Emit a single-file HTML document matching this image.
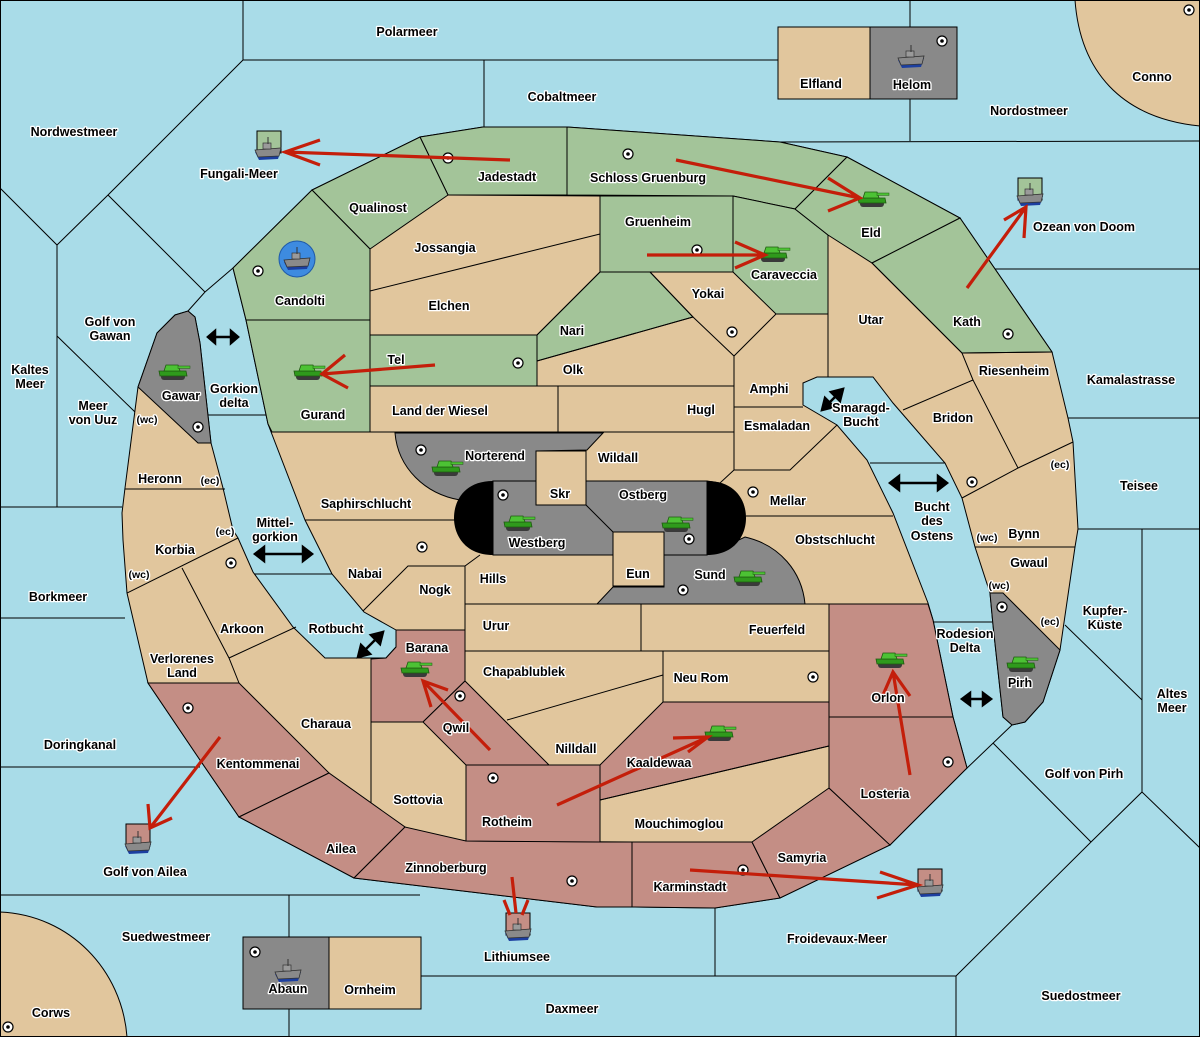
<!DOCTYPE html>
<html><head><meta charset="utf-8"><style>
html,body{margin:0;padding:0;background:#a9dce8;}
svg{display:block}
text{font-family:"Liberation Sans",sans-serif;font-weight:bold;font-size:12.5px;text-anchor:middle;fill:#000;stroke:#fff;stroke-width:2.6px;paint-order:stroke;stroke-linejoin:round}
.l{fill:none;stroke:#000;stroke-width:1}
.r{stroke:#c41e0a;stroke-width:3.2;fill:none;stroke-linecap:butt}
</style></head><body>
<svg width="1200" height="1037" viewBox="0 0 1200 1037" xmlns="http://www.w3.org/2000/svg">
<defs>
<g id="tank">
<rect x="-12" y="1" width="24" height="6" rx="3" fill="#3a3a3a"/>
<path d="M-14,-2 L13,-2 L14,3 L-13,3 Z" fill="#2f9a1c" stroke="#1f5a10" stroke-width="0.8"/>
<path d="M-7,-8 L5,-8 L7,-2 L-9,-2 Z" fill="#4cc234" stroke="#1f5a10" stroke-width="0.8"/>
<rect x="5" y="-7" width="12" height="2.4" fill="#4cc234" stroke="#1f5a10" stroke-width="0.5"/>
</g>
<g id="ship">
<path d="M-13,0 L13,-2 L10,7 L-9,8 Z" fill="#1c3fa0"/>
<path d="M-13,-2 L13,-4 L11,4 L-10,5 Z" fill="#8a8a8a" stroke="#333" stroke-width="0.8"/>
<rect x="-5" y="-9" width="8" height="6" fill="#9a9a9a" stroke="#333" stroke-width="0.7"/>
<line x1="0" y1="-15" x2="0" y2="-8" stroke="#333" stroke-width="1"/>
</g>
<g id="sc"><circle r="5" fill="#fff" stroke="#000" stroke-width="1.2"/><circle r="1.8" fill="#000"/></g>
</defs>
<rect width="1200" height="1037" fill="#a9dce8"/>
<!-- corner lands -->
<path d="M1075,0 C1080,70 1120,118 1200,126 L1200,0 Z" fill="#e1c69d" stroke="#000"/>
<path d="M0,912 C70,915 122,970 127,1037 L0,1037 Z" fill="#e1c69d" stroke="#000"/>
<!-- sea lines -->
<g class="l">
<path d="M243,0 L243,60 L778,60 M484,60 L484,128 M910,0 L910,27 M910,99 L910,141 M780,142 L1200,141"/>
<path d="M243,60 L108,195 L57,245 L0,188 M57,245 L57,507 M0,507 L122,507 M57,336 L135,412 M108,195 L205,292 L188,311 M205,292 L233,268"/>
<path d="M0,618 L125,618 M0,767 L200,767 M0,895 L420,895 M289,895 L289,1037"/>
<path d="M421,976 L956,976 M715,908 L715,976 M956,976 L956,1037 M956,976 L1091,842 L993,743 M1012,725 L965,770 M1091,842 L1142,792 L1200,848 M1142,529 L1142,792 M1065,625 L1142,700 M1078,529 L1200,529 M1068,418 L1200,418 M995,269 L1200,269"/>
<path d="M207,415 L266,415 M253,574 L332,574 M870,463 L945,463 M933,622 L992,622"/>
</g>
<!-- main land -->
<path d="M420,137 L483,127 L567,127 L780,142 L847,157 L960,218 L1052,352 L1068,418 L1073,442 L1078,529 L1075,547 L1060,650 L1043,702 L1025,722 L1012,725 L1003,717 L993,625 L990,593 L975,547 L962,498 L945,463 L893,403 L873,377 L817,377 L803,383 L803,405 L837,425 L867,460 L893,513 L928,603 L933,620 L953,717 L967,768 L890,845 L780,898 L715,908 L632,907 L597,907 L354,878 L239,817 L200,760 L148,683 L127,593 L123,540 L122,513 L125,488 L138,387 L157,333 L175,315 L188,311 L195,317 L200,343 L211,443 L223,488 L233,530 L238,538 L253,572 L293,627 L325,658 L386,658 L396,647 L396,630 L364,612 L332,574 L305,520 L268,424 L246,320 L233,268 L312,190 Z" fill="#e1c69d" stroke="#000" stroke-width="1"/>
<!-- green -->
<g fill="#a3c499" stroke="#000" stroke-width="1">
<path d="M420,137 L483,127 L567,127 L567,195 L448,195 Z"/>
<path d="M567,127 L780,142 L847,157 L795,209 L733,196 L567,195 Z"/>
<path d="M312,190 L420,137 L448,195 L370,249 Z"/>
<path d="M312,190 L370,249 L370,320 L246,320 L233,268 Z"/>
<path d="M246,320 L370,320 L370,432 L272,432 L268,424 Z"/>
<path d="M370,335 L537,335 L537,386 L370,386 Z"/>
<path d="M537,335 L600,272 L650,272 L693,317 L537,361 Z"/>
<path d="M600,196 L733,196 L733,272 L600,272 Z"/>
<path d="M733,196 L795,209 L828,235 L828,314 L776,314 L733,272 Z"/>
<path d="M795,209 L847,157 L960,218 L872,263 L828,235 Z"/>
<path d="M872,263 L960,218 L1052,352 L962,353 Z"/>
</g>
<!-- red -->
<g fill="#c48e85" stroke="#000" stroke-width="1">
<path d="M148,683 L239,683 L329,773 L239,817 L200,760 Z"/>
<path d="M239,817 L329,773 L405,827 L354,878 Z"/>
<path d="M354,878 L405,827 L466,841 L632,842 L632,907 L597,907 Z"/>
<path d="M371,659 L386,658 L396,647 L396,630 L465,630 L465,681 L423,722 L371,722 Z"/>
<path d="M423,722 L465,681 L549,765 L466,765 Z"/>
<path d="M466,765 L600,765 L600,842 L466,841 Z"/>
<path d="M600,765 L663,702 L829,702 L829,746 L600,800 Z"/>
<path d="M632,842 L752,842 L780,898 L715,908 L632,907 Z"/>
<path d="M752,842 L829,788 L890,845 L780,898 Z"/>
<path d="M829,717 L953,717 L967,768 L890,845 L829,788 Z"/>
<path d="M829,604 L928,604 L933,620 L953,717 L829,717 Z"/>
</g>
<!-- gray -->
<g fill="#898989" stroke="#000" stroke-width="1">
<path d="M188,311 L195,317 L200,343 L211,443 L198,443 L138,387 L157,333 L175,315 Z"/>
<path d="M990,593 L1003,593 L1060,650 L1043,702 L1025,722 L1012,725 L1003,717 L993,625 Z"/>
<path d="M395,433 L603,433 L587,450 L536,451 L536,481 L493,481 L460,500 C425,494 398,468 395,433 Z"/>
<path d="M493,481 L707,481 L707,555 L493,555 Z"/>
<path d="M664,555 L707,555 L745,537 C780,545 802,572 805,604 L597,604 L613,587 L664,587 Z"/>
<rect x="243" y="937" width="86" height="72"/>
<rect x="870" y="27" width="87" height="72"/>
</g>
<g fill="#e1c69d" stroke="#000" stroke-width="1">
<rect x="536" y="451" width="50" height="54"/>
<rect x="613" y="532" width="51" height="54"/>
<rect x="329" y="937" width="92" height="72"/>
<rect x="778" y="27" width="92" height="72"/>
</g>
<path d="M493,481 L493,555 C465,555 454,535 454,518 C454,500 465,481 493,481 Z" fill="#000"/>
<path d="M707,481 L707,555 C735,555 746,535 746,518 C746,500 735,481 707,481 Z" fill="#000"/>
<!-- inner borders -->
<g class="l">
<path d="M370,291 L600,234 M448,195 L600,196 L600,272 L537,335 M537,361 L537,335 M537,361 L693,317 M537,386 L734,386 M558,386 L558,432 M272,432 L603,432 M603,432 L734,432 M693,317 L734,356 L776,314 L828,314 M650,272 L693,317 M734,356 L734,470 M734,407 L803,407 M734,470 L790,470 L837,425 M734,470 L720,483 L707,481 M828,314 L828,377 M828,235 L828,314 M872,263 L962,353 L973,380 L1018,468 L962,498 M973,380 L903,410 M1018,468 L1073,442 M975,547 L1075,547 M962,353 L1052,352"/>
<path d="M586,505 L613,532 M746,516 L893,516 M305,520 L455,520 M363,611 L408,566 L465,566 L480,555 M465,566 L465,630 M465,604 L641,604 M641,604 L641,651 M465,651 L829,651 M663,651 L663,702 M507,720 L663,675 M805,604 L928,604 M829,604 L829,788 M600,800 L829,746 M600,842 L752,842"/>
<path d="M125,489 L225,489 M127,593 L238,538 M182,568 L229,658 L239,683 M229,658 L296,627 M371,659 L371,803"/>
</g>
<!-- supply centers -->
<g>
<use href="#sc" x="448" y="158"/><use href="#sc" x="628" y="154"/><use href="#sc" x="697" y="250"/><use href="#sc" x="258" y="271"/><use href="#sc" x="518" y="363"/><use href="#sc" x="732" y="332"/><use href="#sc" x="1008" y="334"/><use href="#sc" x="198" y="427"/><use href="#sc" x="421" y="450"/><use href="#sc" x="503" y="495"/><use href="#sc" x="753" y="492"/><use href="#sc" x="422" y="547"/><use href="#sc" x="231" y="563"/><use href="#sc" x="689" y="539"/><use href="#sc" x="683" y="590"/><use href="#sc" x="972" y="482"/><use href="#sc" x="1002" y="607"/><use href="#sc" x="460" y="696"/><use href="#sc" x="813" y="677"/><use href="#sc" x="188" y="708"/><use href="#sc" x="493" y="778"/><use href="#sc" x="948" y="762"/><use href="#sc" x="572" y="881"/><use href="#sc" x="743" y="870"/><use href="#sc" x="255" y="952"/><use href="#sc" x="8" y="1027"/><use href="#sc" x="1189" y="10"/><use href="#sc" x="942" y="41"/>
</g>
<!-- ship boxes -->
<g stroke="#000" stroke-width="1">
<rect x="257" y="131" width="24" height="22" fill="#a3c499"/>
<rect x="1018" y="178" width="24" height="22" fill="#a3c499"/>
<rect x="126" y="824" width="24" height="22" fill="#c48e85"/>
<rect x="506" y="913" width="24" height="22" fill="#c48e85"/>
<rect x="918" y="869" width="24" height="22" fill="#c48e85"/>
</g>
<circle cx="297" cy="259" r="18" fill="#3d8be0" stroke="#1f5aa8"/>
<use href="#ship" x="268" y="152"/><use href="#ship" x="1030" y="198"/><use href="#ship" x="297" y="262"/><use href="#ship" x="911" y="60"/><use href="#ship" x="138" y="846"/><use href="#ship" x="518" y="933"/><use href="#ship" x="930" y="889"/><use href="#ship" x="288" y="974"/>
<use href="#tank" x="872" y="200"/><use href="#tank" x="773" y="255"/><use href="#tank" x="308" y="373"/><use href="#tank" x="173" y="373"/><use href="#tank" x="446" y="469"/><use href="#tank" x="518" y="524"/><use href="#tank" x="676" y="525"/><use href="#tank" x="748" y="579"/><use href="#tank" x="415" y="670"/><use href="#tank" x="719" y="734"/><use href="#tank" x="890" y="661"/><use href="#tank" x="1021" y="665"/>
<!-- red arrows -->
<g class="r">
<path d="M510,160 L285,152 M320,140 L285,152 L320,165"/>
<path d="M676,160 L860,198 M828,178 L860,198 L828,211"/>
<path d="M647,255 L765,255 M735,242 L765,255 L735,268"/>
<path d="M435,365 L322,374 M345,355 L322,374 L348,388"/>
<path d="M967,288 L1026,207 M1004,220 L1026,207 L1024,238"/>
<path d="M220,737 L150,828 M148,804 L150,828 L172,818"/>
<path d="M490,750 L423,681 M431,707 L423,681 L448,690"/>
<path d="M557,805 L708,737 M673,738 L708,737 L688,752"/>
<path d="M910,775 L893,672 M883,695 L893,672 L910,696"/>
<path d="M690,870 L918,885 M880,872 L918,885 L877,898"/>
<path d="M512,877 L516,913 M504,900 L510,915 M528,900 L522,915"/>
</g>
<!-- double arrows -->
<g stroke="#000" stroke-width="2.5" fill="#000">
<path d="M213,337 L233,337"/><path d="M208,337 L215,331 L215,343 Z M238,337 L231,331 L231,343 Z"/>
<path d="M262,554 L305,554"/><path d="M255,554 L264,547 L264,561 Z M312,554 L303,547 L303,561 Z"/>
<path d="M363,652 L378,637"/><path d="M358,657 L361,645 L370,654 Z M383,632 L371,635 L380,644 Z"/>
<path d="M827,405 L838,394"/><path d="M822,410 L825,398 L834,407 Z M843,389 L831,392 L840,401 Z"/>
<path d="M897,483 L940,483"/><path d="M890,483 L899,476 L899,490 Z M947,483 L938,476 L938,490 Z"/>
<path d="M968,699 L985,699"/><path d="M962,699 L970,693 L970,705 Z M991,699 L983,693 L983,705 Z"/>
</g>
<!-- labels -->
<g>
<text x="407" y="36">Polarmeer</text><text x="562" y="101">Cobaltmeer</text><text x="821" y="88">Elfland</text><text x="912" y="89">Helom</text><text x="1152" y="81">Conno</text><text x="1029" y="115">Nordostmeer</text><text x="74" y="136">Nordwestmeer</text><text x="239" y="178">Fungali-Meer</text><text x="507" y="181">Jadestadt</text><text x="648" y="182">Schloss Gruenburg</text><text x="378" y="212">Qualinost</text><text x="871" y="237">Eld</text><text x="658" y="226">Gruenheim</text><text x="1084" y="231">Ozean von Doom</text><text x="445" y="252">Jossangia</text><text x="784" y="279">Caraveccia</text><text x="300" y="305">Candolti</text><text x="449" y="310">Elchen</text><text x="708" y="298">Yokai</text><text x="871" y="324">Utar</text><text x="110" y="326">Golf von</text><text x="110" y="340">Gawan</text><text x="967" y="326">Kath</text><text x="572" y="335">Nari</text><text x="30" y="374">Kaltes</text><text x="30" y="388">Meer</text><text x="396" y="364">Tel</text><text x="573" y="374">Olk</text><text x="1014" y="375">Riesenheim</text><text x="1131" y="384">Kamalastrasse</text><text x="769" y="393">Amphi</text><text x="181" y="400">Gawar</text><text x="234" y="393">Gorkion</text><text x="234" y="407">delta</text><text x="93" y="410">Meer</text><text x="93" y="424">von Uuz</text><text x="147" y="423" style="font-size:10.5px">(wc)</text><text x="861" y="412">Smaragd-</text><text x="861" y="426">Bucht</text><text x="323" y="419">Gurand</text><text x="440" y="415">Land der Wiesel</text><text x="701" y="414">Hugl</text><text x="953" y="422">Bridon</text><text x="777" y="430">Esmaladan</text><text x="495" y="460">Norterend</text><text x="618" y="462">Wildall</text><text x="160" y="483">Heronn</text><text x="210" y="484" style="font-size:10.5px">(ec)</text><text x="1060" y="468" style="font-size:10.5px">(ec)</text><text x="1139" y="490">Teisee</text><text x="560" y="498">Skr</text><text x="643" y="499">Ostberg</text><text x="788" y="505">Mellar</text><text x="932" y="511">Bucht</text><text x="932" y="525">des</text><text x="932" y="540">Ostens</text><text x="366" y="508">Saphirschlucht</text><text x="537" y="547">Westberg</text><text x="225" y="535" style="font-size:10.5px">(ec)</text><text x="275" y="527">Mittel-</text><text x="275" y="541">gorkion</text><text x="175" y="554">Korbia</text><text x="1024" y="538">Bynn</text><text x="987" y="541" style="font-size:10.5px">(wc)</text><text x="835" y="544">Obstschlucht</text><text x="1029" y="567">Gwaul</text><text x="365" y="578">Nabai</text><text x="638" y="578">Eun</text><text x="710" y="579">Sund</text><text x="493" y="583">Hills</text><text x="139" y="578" style="font-size:10.5px">(wc)</text><text x="999" y="589" style="font-size:10.5px">(wc)</text><text x="435" y="594">Nogk</text><text x="58" y="601">Borkmeer</text><text x="1105" y="615">Kupfer-</text><text x="1105" y="629">Küste</text><text x="1050" y="625" style="font-size:10.5px">(ec)</text><text x="496" y="630">Urur</text><text x="777" y="634">Feuerfeld</text><text x="242" y="633">Arkoon</text><text x="336" y="633">Rotbucht</text><text x="965" y="638">Rodesion</text><text x="965" y="652">Delta</text><text x="427" y="652">Barana</text><text x="182" y="663">Verlorenes</text><text x="182" y="677">Land</text><text x="888" y="702">Orlon</text><text x="524" y="676">Chapablublek</text><text x="701" y="682">Neu Rom</text><text x="1020" y="687">Pirh</text><text x="1172" y="698">Altes</text><text x="1172" y="712">Meer</text><text x="326" y="728">Charaua</text><text x="456" y="732">Qwil</text><text x="80" y="749">Doringkanal</text><text x="576" y="753">Nilldall</text><text x="659" y="767">Kaaldewaa</text><text x="258" y="768">Kentommenai</text><text x="1084" y="778">Golf von Pirh</text><text x="885" y="798">Losteria</text><text x="418" y="804">Sottovia</text><text x="507" y="826">Rotheim</text><text x="679" y="828">Mouchimoglou</text><text x="341" y="853">Ailea</text><text x="802" y="862">Samyria</text><text x="446" y="872">Zinnoberburg</text><text x="145" y="876">Golf von Ailea</text><text x="690" y="891">Karminstadt</text><text x="166" y="941">Suedwestmeer</text><text x="837" y="943">Froidevaux-Meer</text><text x="517" y="961">Lithiumsee</text><text x="288" y="993">Abaun</text><text x="370" y="994">Ornheim</text><text x="1081" y="1000">Suedostmeer</text><text x="572" y="1013">Daxmeer</text><text x="51" y="1017">Corws</text>
</g>
<rect x="0.5" y="0.5" width="1199" height="1036" fill="none" stroke="#000"/>
</svg>
</body></html>
